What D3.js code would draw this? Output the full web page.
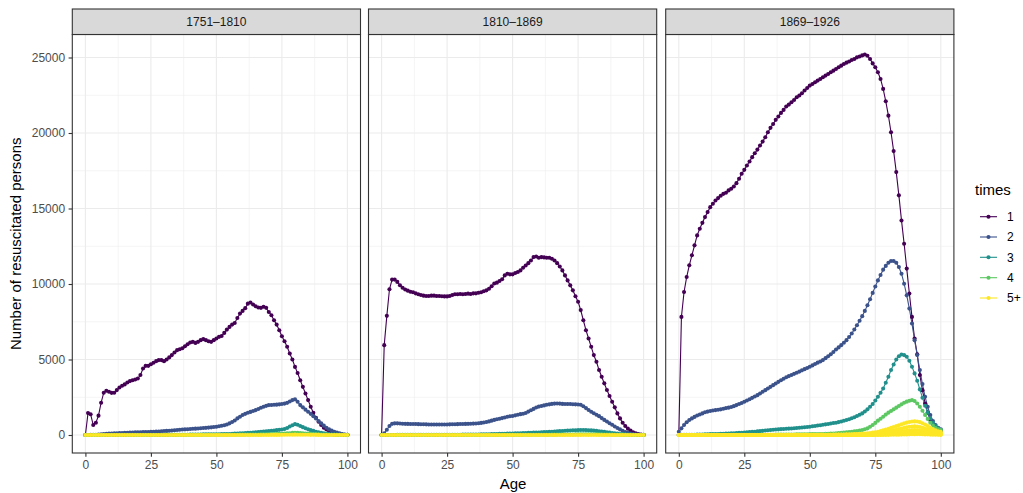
<!DOCTYPE html>
<meta charset="utf-8">
<style>
body { margin: 0; background: #fff; }
text { font-family: "Liberation Sans", Arial, sans-serif; }
</style>
<body>
<script src="https://d3js.org/d3.v7.min.js"></script>
<script>

// facet titles, legend groups, ticks
var facets = ["1751\u20131810", "1810\u20131869", "1869\u20131926"];
var timesLabels = ["1", "2", "3", "4", "5+"];
var timesColors = ["#440154", "#3B528B", "#21908C", "#5DC863", "#FDE725"];
var xTicks = [0, 25, 50, 75, 100];
var yTicks = [0, 5000, 10000, 15000, 20000, 25000];

// ---- 1751-1810 (ages 0..100) ----
var p1_t1 = [0,1450,1370,660,810,1280,2140,2800,2930,2860,
  2790,2800,2975,3150,3260,3350,3480,3570,3630,3680,
  3740,3970,4400,4580,4580,4690,4780,4890,4960,4960,
  4890,5000,5140,5290,5460,5620,5680,5750,5880,6010,
  6130,6170,6100,6170,6280,6350,6280,6210,6170,6280,
  6390,6500,6560,6760,6980,7160,7310,7420,7750,8040,
  8220,8400,8700,8770,8640,8530,8440,8420,8490,8420,
  8150,7930,7600,7310,6940,6540,6210,5840,5400,5000,
  4510,4110,3630,3190,2750,2310,1870,1470,1140,880,
  660,480,370,260,180,110,70,40,25,15,10];
var p1_t2 = [0,0,5,10,20,30,45,60,75,90,
  100,110,120,130,135,140,150,160,165,175,
  180,185,190,195,200,205,215,225,235,250,
  260,270,285,300,315,330,345,360,375,385,
  400,410,420,430,445,460,475,490,505,525,
  550,580,610,650,700,770,860,960,1100,1210,
  1320,1400,1470,1530,1590,1650,1720,1800,1870,1930,
  1980,1990,2000,2010,2030,2050,2080,2130,2220,2310,
  2360,2200,1980,1830,1680,1540,1400,1250,1100,930,
  770,620,480,370,290,220,160,110,60,30,10];
var p1_t3 = [0,0,0,0,0,0,0,0,0,0,
  5,5,5,5,5,5,5,5,5,5,
  10,10,10,10,10,10,10,10,10,10,
  20,20,20,20,20,20,20,20,20,20,
  30,30,30,30,30,40,40,40,40,40,
  45,50,55,60,65,70,80,90,100,110,
  120,130,140,150,165,180,195,210,225,245,
  265,285,300,320,340,360,400,460,560,650,
  720,680,600,520,450,380,320,270,220,180,
  140,110,85,65,50,35,25,15,10,5,2];
var p1_t4 = [0,0,0,0,0,0,0,0,0,0,
  0,0,0,0,0,2,2,2,2,2,
  3,3,3,3,3,4,4,4,4,5,
  5,5,6,6,6,7,7,8,8,9,
  9,10,10,11,11,12,12,13,13,14,
  14,15,15,16,17,18,19,20,21,22,
  24,26,28,30,32,35,38,41,44,47,
  50,55,60,65,72,80,90,105,120,140,
  150,145,130,115,100,90,78,66,55,45,
  35,28,22,17,13,10,7,5,3,2,1];
var p1_t5 = [0,0,0,0,0,0,0,0,0,0,
  0,0,0,0,0,0,0,0,0,0,
  0,0,0,0,0,0,0,0,0,0,
  0,0,0,0,0,0,0,0,0,0,
  0,0,0,0,0,0,0,0,0,0,
  0,0,0,0,0,0,0,0,0,0,
  1,1,1,1,2,2,2,3,3,4,
  4,5,6,7,8,10,12,14,17,20,
  22,21,19,17,15,13,11,9,7,5,
  4,3,2,2,1,1,1,0,0,0,0];

// ---- 1810-1869 ----
var p2_t1 = [0,5950,7890,9650,10290,10290,10140,9920,9750,9640,
  9560,9490,9450,9380,9320,9270,9230,9210,9210,9230,
  9230,9210,9210,9190,9180,9180,9210,9270,9320,9320,
  9340,9320,9340,9360,9340,9380,9380,9420,9450,9520,
  9580,9690,9850,10030,10090,10200,10310,10570,10680,10640,
  10640,10730,10790,10900,11080,11230,11380,11560,11780,11820,
  11740,11780,11760,11740,11740,11670,11560,11380,11160,10900,
  10570,10240,9910,9580,9190,8820,8270,7600,6940,6390,
  5840,5290,4850,4300,3860,3420,2980,2580,2200,1830,
  1430,1100,815,600,420,290,180,110,70,30,10];
var p2_t2 = [0,110,350,600,740,770,770,760,750,740,
  735,730,730,725,720,715,710,705,700,700,
  700,700,700,700,700,700,705,710,715,720,
  725,730,735,740,750,755,765,775,800,830,
  860,900,950,1000,1040,1080,1120,1160,1210,1240,
  1260,1300,1340,1380,1410,1460,1550,1640,1730,1820,
  1880,1920,1960,2000,2030,2060,2080,2090,2080,2060,
  2050,2050,2050,2040,2030,2020,2000,1900,1780,1660,
  1540,1440,1340,1250,1120,1000,890,780,680,560,
  460,370,280,200,140,100,60,30,15,5,0];
var p2_t3 = [0,0,0,2,3,4,5,5,5,5,
  6,6,6,7,7,7,8,8,8,9,
  10,11,12,13,14,15,16,17,18,19,
  20,22,24,26,28,30,33,36,40,44,
  48,52,57,62,67,72,77,82,88,94,
  100,106,112,118,124,130,138,146,154,162,
  170,180,190,200,210,220,232,244,256,268,
  280,290,300,310,318,325,330,330,325,318,
  305,290,272,252,230,205,180,155,130,108,
  88,70,55,42,32,24,17,11,6,3,1];
var p2_t4 = [0,0,0,0,0,0,0,0,0,0,
  0,0,0,0,0,0,0,0,0,0,
  0,0,0,0,0,1,1,1,1,1,
  1,1,1,2,2,2,2,2,3,3,
  3,3,4,4,4,5,5,5,6,6,
  7,7,8,8,9,10,11,12,13,14,
  15,16,17,18,20,22,24,26,28,30,
  32,34,36,38,40,42,44,46,48,49,
  50,49,47,44,40,36,31,26,22,18,
  14,11,8,6,4,3,2,1,1,0,0];
var p2_t5 = [0,0,0,0,0,0,0,0,0,0,
  0,0,0,0,0,0,0,0,0,0,
  0,0,0,0,0,0,0,0,0,0,
  0,0,0,0,0,0,0,0,0,0,
  0,0,0,0,0,0,0,0,0,0,
  0,0,0,0,0,0,0,0,0,0,
  0,0,0,0,0,0,0,0,0,0,
  1,1,1,1,1,1,2,2,2,2,
  2,2,2,2,2,1,1,1,1,1,
  1,0,0,0,0,0,0,0,0,0,0];

// ---- 1869-1926 ----
var p3_t1 = [0,7820,9470,10460,11240,11900,12560,13220,13660,14050,
  14430,14760,15090,15310,15530,15690,15840,15970,16040,16200,
  16310,16460,16680,16970,17300,17560,17850,18110,18400,18660,
  18900,19170,19430,19720,20050,20340,20600,20870,21090,21330,
  21530,21750,21880,22040,22190,22370,22480,22630,22810,22980,
  23140,23250,23360,23470,23580,23690,23800,23910,24020,24130,
  24240,24350,24460,24570,24660,24740,24830,24900,25010,25070,
  25140,25200,25120,24900,24610,24350,24020,23580,22920,22100,
  21150,20050,18800,17410,15870,14210,12670,11020,9370,7820,
  6390,5350,3970,2970,2090,1480,990,660,440,330,260];
var p3_t2 = [220,440,660,840,990,1100,1200,1290,1360,1430,
  1510,1550,1590,1620,1650,1670,1700,1740,1780,1810,
  1850,1910,1980,2050,2120,2200,2280,2370,2460,2550,
  2640,2750,2860,2970,3080,3190,3300,3410,3520,3630,
  3730,3820,3900,3970,4050,4120,4200,4280,4360,4440,
  4520,4610,4700,4790,4870,4960,5090,5220,5350,5500,
  5660,5800,5950,6110,6280,6490,6720,6990,7270,7570,
  7870,8220,8590,8990,9410,9830,10240,10600,10950,11200,
  11410,11520,11520,11410,11130,10680,10020,9250,8370,7380,
  6280,5290,4300,3370,2530,1870,1320,930,660,480,370];
var p3_t3 = [0,5,10,12,15,18,20,25,30,35,
  45,50,55,60,65,70,80,85,95,100,
  110,120,130,140,150,160,175,190,205,220,
  240,255,275,295,310,330,345,360,375,390,
  400,410,425,435,450,460,480,500,515,530,
  550,575,600,625,650,680,705,730,760,790,
  815,855,895,940,990,1040,1110,1180,1260,1340,
  1430,1560,1700,1870,2050,2280,2530,2800,3080,3460,
  3860,4300,4670,5000,5220,5330,5290,5180,4920,4520,
  4080,3590,3020,2470,1940,1480,1100,815,600,440,330];
var p3_t4 = [0,0,0,0,0,0,0,0,0,0,
  5,5,5,5,5,5,5,5,5,5,
  10,10,10,10,10,10,10,10,10,10,
  15,16,17,18,19,20,21,22,24,25,
  30,32,34,36,38,40,43,46,48,50,
  55,58,60,62,64,65,75,85,95,100,
  110,125,140,160,180,200,220,245,265,300,
  330,380,440,550,660,800,950,1080,1210,1350,
  1480,1590,1700,1810,1920,2030,2140,2210,2270,2310,
  2250,2090,1870,1610,1320,1060,815,620,460,370,330];
// 5+ is several groups (5, 6, 7, ...) sharing one colour
var p3_t5 = [0,0,0,0,0,0,0,0,0,0,
  0,0,0,0,0,1,1,1,1,1,
  2,2,2,2,2,3,3,3,3,3,
  4,4,4,4,5,5,5,5,6,6,
  6,7,7,7,8,8,8,9,9,9,
  10,11,12,13,14,15,16,18,20,22,
  25,28,31,35,39,44,50,57,64,72,
  82,95,110,130,155,185,220,260,305,355,
  410,470,530,590,650,710,770,820,860,890,
  900,890,850,780,690,590,490,390,310,250,210];
var p3_t6 = [0,0,0,0,0,0,0,0,0,0,
  0,0,0,0,0,0,0,0,0,0,
  0,0,0,0,0,0,0,0,0,0,
  1,1,1,1,1,1,1,1,1,1,
  2,2,2,2,2,2,2,3,3,3,
  4,4,4,5,5,6,6,7,8,9,
  10,12,14,16,18,21,24,28,32,36,
  42,50,58,68,80,95,115,140,170,200,
  235,270,310,350,390,430,470,510,540,560,
  570,560,530,480,420,360,300,240,190,150,120];
var p3_t7 = [0,0,0,0,0,0,0,0,0,0,
  0,0,0,0,0,0,0,0,0,0,
  0,0,0,0,0,0,0,0,0,0,
  0,0,0,0,0,0,0,0,0,0,
  0,0,0,0,0,1,1,1,1,1,
  1,1,2,2,2,2,3,3,3,4,
  4,5,5,6,7,8,9,10,12,13,
  15,18,22,26,32,40,50,60,75,90,
  110,130,150,175,200,225,250,275,300,320,
  335,330,310,280,245,205,170,135,105,80,65];
var p3_t8 = [0,0,0,0,0,0,0,0,0,0,
  0,0,0,0,0,0,0,0,0,0,
  0,0,0,0,0,0,0,0,0,0,
  0,0,0,0,0,0,0,0,0,0,
  0,0,0,0,0,0,0,0,0,0,
  0,0,0,0,0,0,0,0,0,0,
  1,1,1,1,2,2,2,3,3,4,
  5,6,7,9,11,15,20,25,30,38,
  45,55,65,75,88,100,115,130,145,158,
  165,162,152,138,120,100,82,65,50,38,30];
var p3_t9 = [0,0,0,0,0,0,0,0,0,0,
  0,0,0,0,0,0,0,0,0,0,
  0,0,0,0,0,0,0,0,0,0,
  0,0,0,0,0,0,0,0,0,0,
  0,0,0,0,0,0,0,0,0,0,
  0,0,0,0,0,0,0,0,0,0,
  0,0,0,0,0,0,0,0,1,1,
  1,1,2,2,2,3,3,4,5,7,
  10,12,15,18,22,27,32,38,44,50,
  55,55,52,47,41,34,28,22,17,13,10];

var panels = [
  {facet: facets[0], groups: [["1", p1_t1], ["2", p1_t2], ["3", p1_t3], ["4", p1_t4], ["5+", p1_t5]]},
  {facet: facets[1], groups: [["1", p2_t1], ["2", p2_t2], ["3", p2_t3], ["4", p2_t4], ["5+", p2_t5]]},
  {facet: facets[2], groups: [["1", p3_t1], ["2", p3_t2], ["3", p3_t3], ["4", p3_t4],
                              ["5+", p3_t9], ["5+", p3_t8], ["5+", p3_t7], ["5+", p3_t6], ["5+", p3_t5]]}
];

// layout
var W = 1023, H = 493;
var panelLeft = [72.3, 368.5, 665.7],
    panelW = 288.2,
    stripTop = 9, panelTop = 34.5, panelBottom = 453;

var color = d3.scaleOrdinal().domain(timesLabels).range(timesColors);

var y = d3.scaleLinear().domain([0, 25000]).range([435, 57.5]);

var svg = d3.select("body").append("svg")
    .attr("width", W)
    .attr("height", H);

svg.append("rect").attr("width", W).attr("height", H).attr("fill", "#fff");

panels.forEach(function(p, i) {
  var left = panelLeft[i];
  var x = d3.scaleLinear().domain([-5, 105]).range([left, left + panelW]);
  var g = svg.append("g");

  // minor grid
  g.selectAll(".minx").data([12.5, 37.5, 62.5, 87.5]).enter().append("line")
    .attr("x1", function(d) { return x(d); }).attr("x2", function(d) { return x(d); })
    .attr("y1", panelTop).attr("y2", panelBottom)
    .attr("stroke", "#EBEBEB").attr("stroke-width", 0.55);
  g.selectAll(".miny").data([2500, 7500, 12500, 17500, 22500]).enter().append("line")
    .attr("x1", left).attr("x2", left + panelW)
    .attr("y1", function(d) { return y(d); }).attr("y2", function(d) { return y(d); })
    .attr("stroke", "#EBEBEB").attr("stroke-width", 0.55);
  // major grid
  g.selectAll(".majx").data(xTicks).enter().append("line")
    .attr("x1", function(d) { return x(d); }).attr("x2", function(d) { return x(d); })
    .attr("y1", panelTop).attr("y2", panelBottom)
    .attr("stroke", "#EBEBEB").attr("stroke-width", 1.1);
  g.selectAll(".majy").data(yTicks).enter().append("line")
    .attr("x1", left).attr("x2", left + panelW)
    .attr("y1", function(d) { return y(d); }).attr("y2", function(d) { return y(d); })
    .attr("stroke", "#EBEBEB").attr("stroke-width", 1.1);

  var line = d3.line()
    .x(function(d, k) { return x(k); })
    .y(function(d) { return y(d); });

  // lines first, then points
  p.groups.forEach(function(gr) {
    g.append("path")
      .attr("d", line(gr[1]))
      .attr("fill", "none")
      .attr("stroke", color(gr[0]))
      .attr("stroke-width", 1.1);
  });
  p.groups.forEach(function(gr) {
    g.selectAll(null).data(gr[1]).enter().append("circle")
      .attr("cx", function(d, k) { return x(k); })
      .attr("cy", function(d) { return y(d); })
      .attr("r", 2.05)
      .attr("fill", color(gr[0]));
  });

  // panel border
  g.append("rect")
    .attr("x", left).attr("y", panelTop)
    .attr("width", panelW).attr("height", panelBottom - panelTop)
    .attr("fill", "none").attr("stroke", "#333333").attr("stroke-width", 1.1);

  // strip
  g.append("rect")
    .attr("x", left).attr("y", stripTop)
    .attr("width", panelW).attr("height", panelTop - stripTop)
    .attr("fill", "#D9D9D9").attr("stroke", "#333333").attr("stroke-width", 1.1);
  g.append("text")
    .attr("x", left + panelW / 2).attr("y", (stripTop + panelTop) / 2 + 4.3)
    .attr("text-anchor", "middle")
    .attr("fill", "#1A1A1A")
    .style("font-size", "12px")
    .text(p.facet);

  // x axis
  var xa = g.append("g")
    .attr("transform", "translate(0," + panelBottom + ")")
    .call(d3.axisBottom(x).tickValues(xTicks).tickSize(3.7).tickPadding(3.5));
  xa.select(".domain").remove();
  xa.selectAll("line").attr("stroke", "#333333").attr("stroke-width", 1.1);
  xa.selectAll("text").attr("fill", "#4D4D4D").style("font-size", "12px")
    .style("font-family", "Liberation Sans, Arial, sans-serif");

  // y axis only on first panel
  if (i === 0) {
    var ya = g.append("g")
      .attr("transform", "translate(" + left + ",0)")
      .call(d3.axisLeft(y).tickValues(yTicks).tickSize(3.7).tickPadding(3.5)
        .tickFormat(function(d) { return String(d); }));
    ya.select(".domain").remove();
    ya.selectAll("line").attr("stroke", "#333333").attr("stroke-width", 1.1);
    ya.selectAll("text").attr("fill", "#4D4D4D").style("font-size", "12px")
      .style("font-family", "Liberation Sans, Arial, sans-serif");
  }
});

// axis titles
svg.append("text")
  .attr("x", (panelLeft[0] + panelLeft[2] + panelW) / 2)
  .attr("y", 488.5)
  .attr("text-anchor", "middle")
  .style("font-size", "15px")
  .text("Age");

svg.append("text")
  .attr("transform", "translate(21," + ((panelTop + panelBottom) / 2) + ") rotate(-90)")
  .attr("text-anchor", "middle")
  .style("font-size", "15px")
  .text("Number of resuscitated persons");

// legend
var legend = svg.append("g");
legend.append("text")
  .attr("x", 975).attr("y", 195)
  .style("font-size", "15px")
  .text("times");
var keyY = [216.7, 237, 257.3, 277.7, 298];
timesLabels.forEach(function(t, k) {
  legend.append("line")
    .attr("x1", 980).attr("x2", 997)
    .attr("y1", keyY[k]).attr("y2", keyY[k])
    .attr("stroke", color(t)).attr("stroke-width", 1.1);
  legend.append("circle")
    .attr("cx", 988.5).attr("cy", keyY[k]).attr("r", 2.05)
    .attr("fill", color(t));
  legend.append("text")
    .attr("x", 1007).attr("y", keyY[k] + 4.3)
    .attr("fill", "#000")
    .style("font-size", "12px")
    .text(t);
});

</script>
</body>
